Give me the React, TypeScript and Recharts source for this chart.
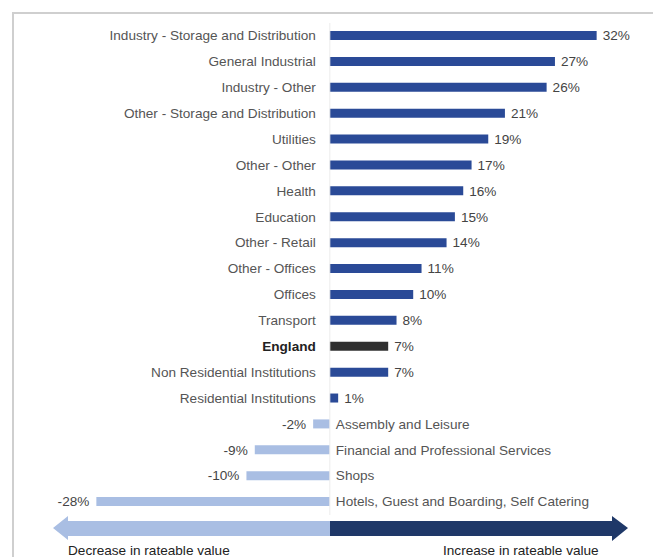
import { BarChart, Bar, XAxis, YAxis, Cell, LabelList, ReferenceLine } from 'recharts';

const categories = [
  'Industry - Storage and Distribution',
  'General Industrial',
  'Industry - Other',
  'Other - Storage and Distribution',
  'Utilities',
  'Other - Other',
  'Health',
  'Education',
  'Other - Retail',
  'Other - Offices',
  'Offices',
  'Transport',
  'England',
  'Non Residential Institutions',
  'Residential Institutions',
  'Assembly and Leisure',
  'Financial and Professional Services',
  'Shops',
  'Hotels, Guest and Boarding, Self Catering',
];

const changes = [32, 27, 26, 21, 19, 17, 16, 15, 14, 11, 10, 8, 7, 7, 1, -2, -9, -10, -28];

const highlight = 'England';

const data = categories.map((name, i) => ({ name, value: changes[i] }));

const DARK = '#2a4a97';
const LIGHT = '#a9bee3';
const ENGLAND = '#303030';
const FONT = '"Liberation Sans", Arial, sans-serif';
const FS = 13.6;

function barColor(name: string, v: number) {
  if (name === highlight) return ENGLAND;
  return v < 0 ? LIGHT : DARK;
}

function RowLabel(props: any) {
  const vb = props.viewBox ?? props;
  const x = Number(vb.x);
  const y = Number(vb.y);
  const w = Number(vb.width);
  const h = Number(vb.height);
  const idx = props.index;
  const v = changes[idx];
  const name = categories[idx];
  const lo = Math.min(x, x + w);
  const hi = Math.max(x, x + w);
  const cy = y + h / 2;
  const bold = name === highlight;
  const valText = `${v}%`;
  if (v >= 0) {
    return (
      <g>
        <text x={lo - 14} y={cy} dy="0.35em" textAnchor="end" fontFamily={FONT} fontSize={FS}
          fontWeight={bold ? 700 : 400} fill={bold ? '#222' : '#555'}>{name}</text>
        <text x={hi + 6} y={cy} dy="0.35em" textAnchor="start" fontFamily={FONT} fontSize={FS} fill="#444">{valText}</text>
      </g>
    );
  }
  return (
    <g>
      <text x={hi + 6} y={cy} dy="0.35em" textAnchor="start" fontFamily={FONT} fontSize={FS} fill="#555">{name}</text>
      <text x={lo - 7} y={cy} dy="0.35em" textAnchor="end" fontFamily={FONT} fontSize={FS} fill="#444">{valText}</text>
    </g>
  );
}

export default function App() {
  return (
    <div style={styles.page}>
      <div style={styles.frame} />
      <BarChart
        width={653}
        height={557}
        data={data}
        layout="vertical"
        margin={{ top: 23, right: 23, left: 63, bottom: 42 }}
        style={{ position: 'absolute', left: 0, top: 0 }}
      >
        <XAxis type="number" domain={[-32, 36]} hide />
        <YAxis type="category" dataKey="name" hide />
        <ReferenceLine x={0} stroke="#ececec" strokeWidth={1} />
        <Bar dataKey="value" barSize={9} isAnimationActive={false}>
          {data.map((d) => (
            <Cell key={d.name} fill={barColor(d.name, d.value)} />
          ))}
          <LabelList dataKey="value" content={RowLabel} />
        </Bar>
      </BarChart>
      <svg width={653} height={557} style={{ position: 'absolute', left: 0, top: 0, pointerEvents: 'none' }}>
        <polygon points="53,528 68,516 68,521 330,521 330,536 68,536 68,540" fill={LIGHT} />
        <polygon points="330,521 612,521 612,516 628,528 612,541 612,536 330,536" fill="#1f3868" />
      </svg>
      <div style={{ ...styles.arrowText, left: 68 }}>Decrease in rateable value</div>
      <div style={{ ...styles.arrowText, left: 443 }}>Increase in rateable value</div>
    </div>
  );
}

const styles: Record<string, React.CSSProperties> = {
  page: {
    position: 'absolute', left: 0, top: 0, width: 653, height: 557,
    background: '#fff', overflow: 'hidden', fontFamily: FONT,
  },
  frame: {
    position: 'absolute', left: 12, top: 12, width: 660, height: 600,
    borderTop: '2px solid #cfcfcf', borderLeft: '2px solid #cfcfcf',
  },
  arrowText: {
    position: 'absolute', top: 543, fontSize: FS, lineHeight: '16px', color: '#222', whiteSpace: 'nowrap',
  },
};
